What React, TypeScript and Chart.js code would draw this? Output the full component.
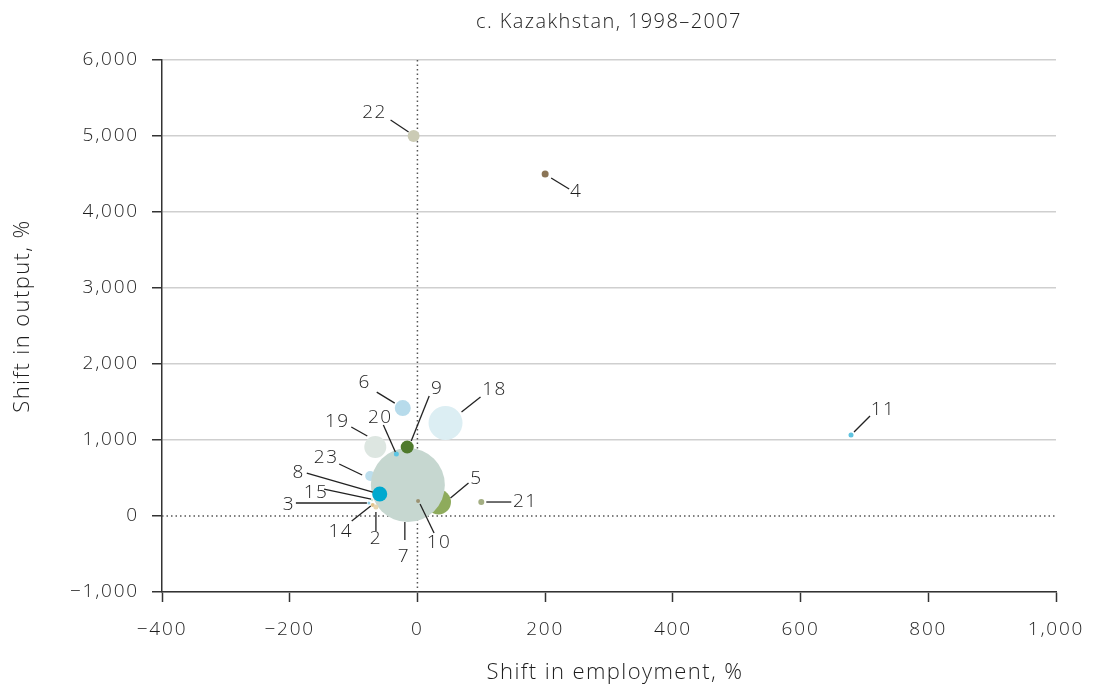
import React, { useEffect, useRef } from "react";
import { Chart, registerables } from "chart.js";

Chart.register(...registerables);

// ---- data ----
const labels = ["22", "4", "11", "6", "18", "19", "23", "5", "7", "9", "20", "8", "10", "21", "3", "15", "14", "2"];
const employmentShift = [-6, 200, 679, -23, 44, -66, -74, 33, -15, -16, -33, -59, 1, 100, -76, -71, -70, -65];
const outputShift = [5000, 4500, 1066, 1420, 1224, 908, 526, 184, 408, 908, 816, 289, 197, 184, 171, 210, 145, 118];
const bubbleSize = [6, 3.5, 2.5, 8, 17, 11, 5, 12.5, 37, 6.5, 2.5, 7.5, 2, 3, 1.5, 1.2, 2, 2.5];
const xTicks = [-400, -200, 0, 200, 400, 600, 800, 1000];
const yTicks = [-1000, 0, 1000, 2000, 3000, 4000, 5000, 6000];

// ---- styles ----
const colors = [
  "#cbcbb5", "#8b7556", "#5ec3e0", "#b7dbeb", "#dceef3", "#dde6e1", "#bcdeed", "#8eab5c",
  "#c6d7d0", "#4f7a2c", "#5cc5e3", "#00a9cf", "#9b9272", "#a3ae82", "#8fd0e8", "#cfe6d8", "#e2c48e", "#e8d6b0",
];
// label layout: [textDx, textDy, lineX1, lineY1, lineX2, lineY2] relative to point centre (px)
const labelLayout: number[][] = [
  [-39, -23, -23, -16, -5, -4],
  [31, 18, 6, 4, 24, 15],
  [32, -25, 3, -3, 19, -19],
  [-38, -25, -26, -16, -8, -5],
  [49, -33, 16, -11, 35, -26],
  [-38, -25, -24, -20, -8, -11],
  [-44, -18, -31, -12, -8, -1],
  [38, -23, 12, -4, 30, -19],
  [-4, 72, -3, 37, -3, 55],
  [30, -58, 22, -51, 4, -6],
  [-16, -36, -13, -29, -1, -2],
  [-81, -21, -73, -21, -7, -2],
  [21, 42, 2, 3, 16, 32],
  [44, 0, 5, 0, 30, 0],
  [-80, 2, -73, 0, -2, 0],
  [-56, -7, -48, -11, -1, -1],
  [-32, 27, -21, 16, -2, 1],
  [0, 32, 0, 5, 0, 24],
];

const FONT = "'Open Sans', 'Noto Sans', sans-serif";
const TEXT = "#1e1e1e";
const SPACING = "1.8px";

const fmt = (v: number) => {
  const s = Math.abs(v).toLocaleString("en-US");
  return v < 0 ? "\u2212" + s : s;
};

const overlayPlugin = {
  id: "overlay",
  beforeInit(chart: any) {
    chart.ctx.letterSpacing = SPACING;
  },
  beforeDraw(chart: any) {
    chart.ctx.letterSpacing = SPACING;
  },
  beforeDatasetsDraw(chart: any) {
    const { ctx, chartArea, scales } = chart;
    const x0 = scales.x.getPixelForValue(0);
    const y0 = scales.y.getPixelForValue(0);
    ctx.save();
    ctx.strokeStyle = "#555";
    ctx.lineWidth = 1.5;
    ctx.setLineDash([1.5, 3]);
    ctx.beginPath();
    ctx.moveTo(x0, chartArea.top);
    ctx.lineTo(x0, chartArea.bottom);
    ctx.moveTo(chartArea.left, y0);
    ctx.lineTo(chartArea.right, y0);
    ctx.stroke();
    ctx.restore();
  },
  afterDraw(chart: any) {
    const { ctx, scales, chartArea } = chart;
    ctx.save();
    ctx.letterSpacing = "1.5px";
    ctx.strokeStyle = "#222";
    ctx.lineWidth = 1.3;
    ctx.fillStyle = TEXT;
    ctx.font = `300 19px ${FONT}`;
    ctx.textAlign = "center";
    ctx.textBaseline = "middle";
    labels.forEach((lab, i) => {
      const px = scales.x.getPixelForValue(employmentShift[i]);
      const py = scales.y.getPixelForValue(outputShift[i]);
      const L = labelLayout[i];
      ctx.beginPath();
      ctx.moveTo(px + L[2], py + L[3]);
      ctx.lineTo(px + L[4], py + L[5]);
      ctx.stroke();
      ctx.fillText(lab, px + L[0], py + L[1]);
    });
    // titles
    ctx.letterSpacing = "1.4px";
    ctx.font = `300 20px ${FONT}`;
    ctx.fillText("c. Kazakhstan, 1998\u20132007", (chartArea.left + chartArea.right) / 2, 22);
    ctx.font = `300 22px ${FONT}`;
    ctx.fillText("Shift in employment, %", 615, 673);
    ctx.translate(23, 316);
    ctx.rotate(-Math.PI / 2);
    ctx.fillText("Shift in output, %", 0, 0);
    ctx.restore();
  },
};

export default function App() {
  const ref = useRef<HTMLCanvasElement>(null);
  useEffect(() => {
    if (!ref.current) return;
    const chart = new Chart(ref.current, {
      type: "bubble",
      data: {
        datasets: [
          {
            data: labels.map((_, i) => ({ x: employmentShift[i], y: outputShift[i], r: bubbleSize[i] })),
            backgroundColor: colors,
            borderWidth: 0,
            hoverRadius: 0,
            xAxisID: "x",
            yAxisID: "y",
          },
        ],
      },
      options: {
        animation: false,
        responsive: false,
        events: [],
        layout: { padding: { top: 60, right: 0, left: 0, bottom: 0 } },
        plugins: { legend: { display: false }, tooltip: { enabled: false }, title: { display: false } },
        scales: {
          x: {
            type: "linear",
            min: -400,
            max: 1000,
            afterBuildTicks: (s: any) => { s.ticks = xTicks.map((v) => ({ value: v })); },
            afterFit: (s: any) => { s.height = 95; s.paddingLeft = 0; s.paddingRight = 0; },
            ticks: { callback: (v: any) => fmt(Number(v)), color: TEXT, font: { family: FONT, size: 19, weight: "300" }, padding: 16, maxRotation: 0 },
            grid: { drawOnChartArea: false, tickLength: 10, tickColor: "#333", tickWidth: 1.5 },
            border: { color: "#333", width: 1.5 },
          },
          y: {
            type: "linear",
            min: -1000,
            max: 6000,
            afterBuildTicks: (s: any) => { s.ticks = yTicks.map((v) => ({ value: v })); },
            afterFit: (s: any) => { s.width = 162; s.paddingTop = 0; s.paddingBottom = 0; },
            ticks: { callback: (v: any) => fmt(Number(v)), color: TEXT, font: { family: FONT, size: 19, weight: "300" }, padding: 13 },
            grid: {
              color: (c: any) => (c.tick && c.tick.value === 0 ? "rgba(0,0,0,0)" : "#cfcfcf"),
              lineWidth: 1.5,
              tickLength: 10,
              tickColor: "#333",
              tickWidth: 1.5,
            },
            border: { color: "#333", width: 1.5 },
          },
          spacer: {
            type: "linear",
            position: "right",
            min: 0,
            max: 1,
            ticks: { display: false },
            grid: { display: false, drawTicks: false },
            border: { display: false },
            afterFit: (s: any) => { s.width = 33; },
          },
        },
      } as any,
      plugins: [overlayPlugin],
    });
    return () => chart.destroy();
  }, []);
  return (
    <div style={{ position: "fixed", left: 0, top: 0, width: 1093, height: 687, background: "#fff" }}>
      <canvas ref={ref} width={1093} height={687} />
    </div>
  );
}
